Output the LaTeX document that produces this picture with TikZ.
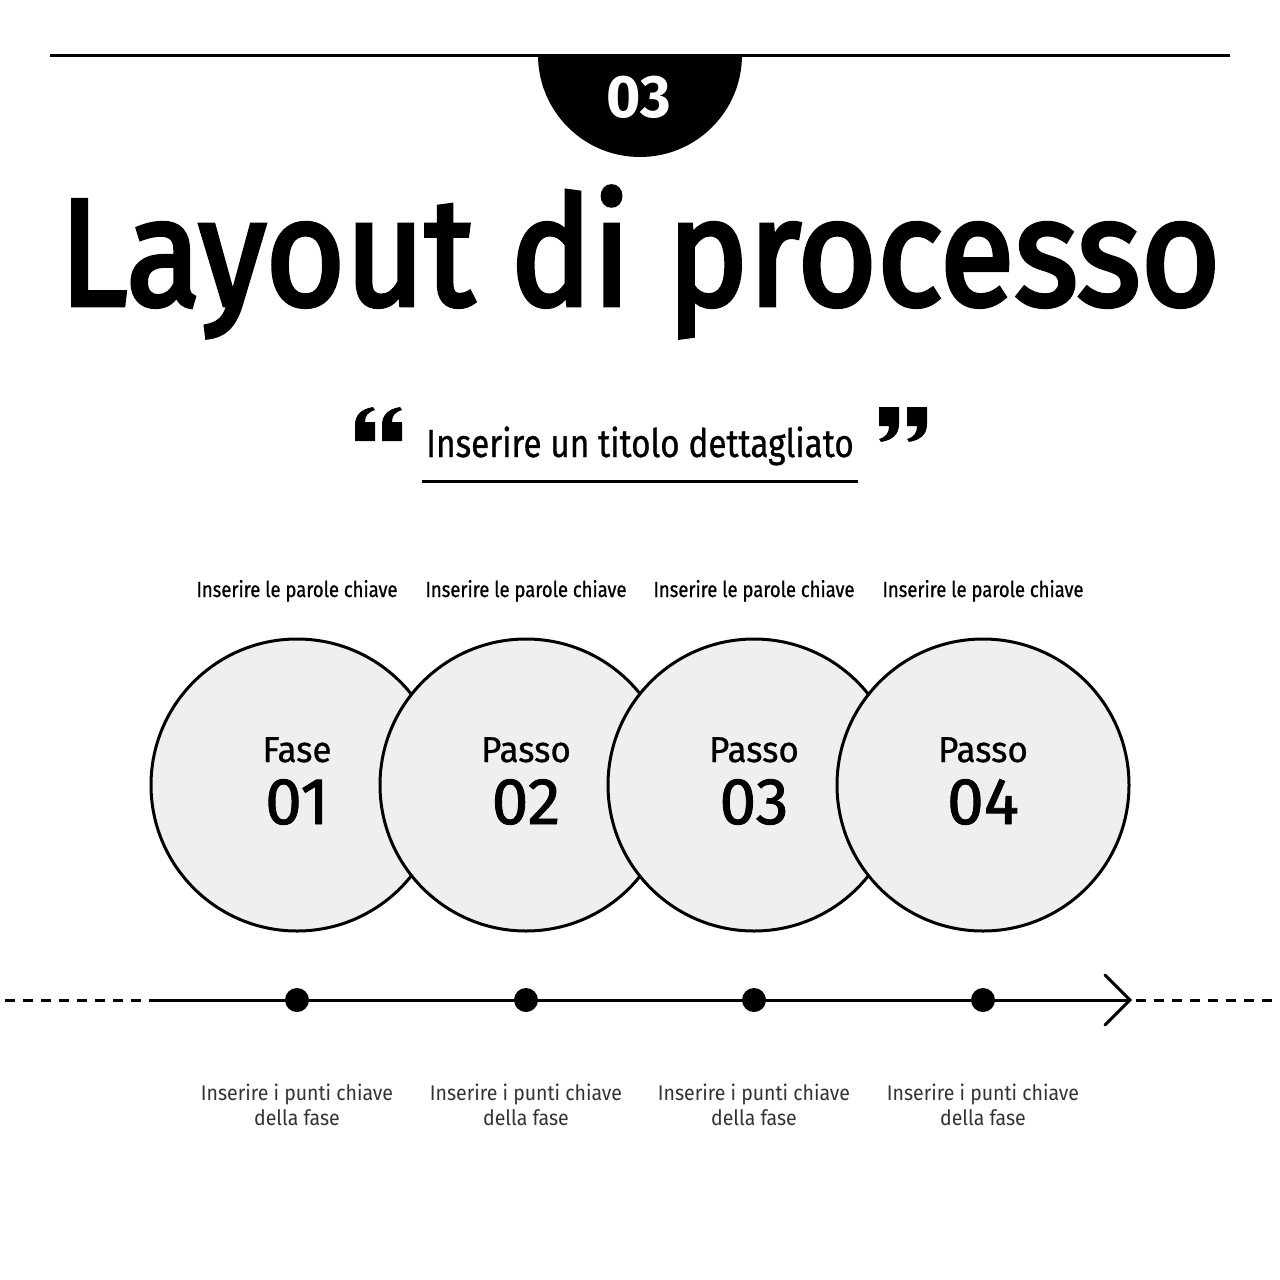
\documentclass[tikz,border=0pt]{standalone}
\usepackage{fontspec}
\setmainfont{Fira Sans}
\newfontfamily\medfont{Fira Sans}[FakeBold=0.8]
\newfontfamily\numfont{Fira Sans}[FakeBold=1.3]
\newfontfamily\titlefont{Fira Sans}[FakeBold=3]
\usepackage{graphicx}
\definecolor{circfill}{HTML}{EFEFEF}
\definecolor{softtext}{HTML}{333333}
\newcommand\hsq[2]{\scalebox{#1}[1]{#2}}
\tikzset{
  stage/.style={circle, draw=black, line width=1.5pt, fill=circfill, minimum size=146pt, inner sep=0pt},
  stagelabel/.style={anchor=base, inner sep=0pt, font=\medfont\fontsize{18}{18}\selectfont},
  stagenum/.style={anchor=base, inner sep=0pt, font=\numfont\fontsize{33}{33}\selectfont},
  keyword/.style={anchor=base, inner sep=0pt, font=\medfont\fontsize{10.9}{11}\selectfont},
  detail/.style={anchor=base, inner sep=0pt, text=softtext, font=\fontsize{10.6}{11}\selectfont},
  dot/.style={circle, fill=black, minimum size=12pt, inner sep=0pt},
  tline/.style={line width=1.5pt},
  tdash/.style={line width=1.5pt, dash pattern=on 5pt off 4pt},
}
\begin{document}
\begin{tikzpicture}[x=0.5pt, y=-0.5pt]
\useasboundingbox (0,0) rectangle (1280,1280);
\fill[white] (0,0) rectangle (1280,1280);

% top rule and half disc
\coordinate (ruleL) at (50,55);
\coordinate (ruleR) at (1230,55);
\fill[black] (538,55) arc[start angle=180, end angle=360, x radius=102, y radius=-102] -- cycle;
\draw[line width=1.5pt] (ruleL) -- (ruleR);
\node[anchor=base, inner sep=0pt, text=white, font=\fontsize{30}{30}\bfseries\selectfont] (num) at (639,117) {\hsq{0.98}{03}};

% title
\node[anchor=base, inner sep=0pt, font=\titlefont\fontsize{76}{76}\selectfont] (title) at (640,305) {\hsq{0.9}{Layout di processo}};

% quotes
\begin{scope}[shift={(355,407)}]
  \foreach \dx in {0,27} {
    \fill[black, shift={(\dx,0)}] (0,34) -- (20,34) -- (20,15) -- (10,15) .. controls (10,9) and (13,5) .. (20,3) -- (18,0) .. controls (6,2) and (0,8) .. (0,18) -- cycle;
  }
\end{scope}
\begin{scope}[shift={(927,442)}, rotate=180]
  \foreach \dx in {0,28} {
    \fill[black, shift={(\dx,0)}] (0,35) -- (20,35) -- (20,16) -- (10,16) .. controls (10,9) and (13,5) .. (20,3) -- (18,0) .. controls (6,2) and (0,8) .. (0,18) -- cycle;
  }
\end{scope}

% subtitle
\node[anchor=base, inner sep=0pt, font=\medfont\fontsize{19.6}{20}\selectfont] (sub) at (640,457) {\hsq{0.85}{Inserire un titolo dettagliato}};
\coordinate (ulL) at (422,481);
\coordinate (ulR) at (858,481);
\draw[line width=1.5pt] (ulL) -- (ulR);

% stages
\foreach \i/\x/\w/\n in {1/297/Fase/01, 2/526/Passo/02, 3/754/Passo/03, 4/983/Passo/04} {
  \node[keyword] (kw\i) at (\x,597) {\hsq{0.846}{Inserire le parole chiave}};
  \node[stage] (c\i) at (\x,785) {};
  \node[stagelabel] (cl\i) at (\x,762) {\hsq{0.97}{\w}};
  \node[stagenum] (cn\i) at (\x,824) {\hsq{1.0}{\n}};
  \node[detail] (da\i) at (\x,1100) {\hsq{0.92}{Inserire i punti chiave}};
  \node[detail] (db\i) at (\x,1125) {\hsq{0.92}{della fase}};
}

% timeline
\coordinate (tlL) at (5,1000);
\coordinate (tlS) at (150,1000);
\coordinate (tlE) at (1130,1000);
\coordinate (tlR) at (1275,1000);
\draw[tdash] (tlL) -- (tlS);
\draw[tline] (tlS) -- (tlE);
\draw[tdash] (tlE) ++(6,0) -- (tlR);
\draw[tline, line cap=round, line join=miter] (tlE) ++(-25,-25) -- (tlE) -- ++(-25,25);
\foreach \i/\x in {1/297, 2/526, 3/754, 4/983} {
  \node[dot] (d\i) at (\x,1000) {};
}
\end{tikzpicture}
\end{document}
